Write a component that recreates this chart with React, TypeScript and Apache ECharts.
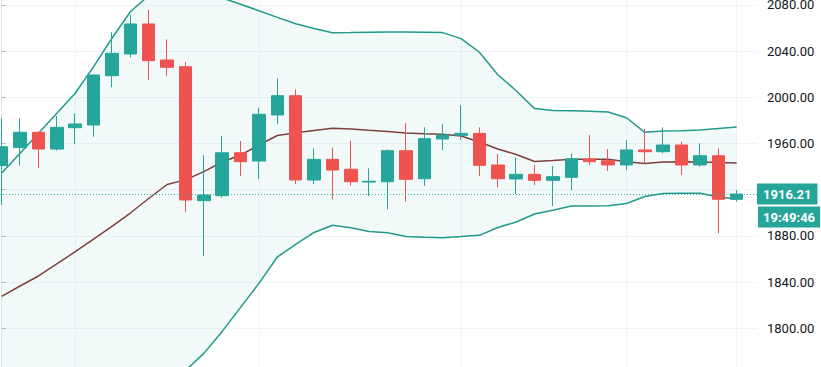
import React, { useEffect, useRef } from 'react';
import * as echarts from 'echarts';

const opens = [1940.8, 1956.4, 1969.7, 1955.2, 1973.7, 1976.0, 2018.7, 2037.5, 2063.5, 2032.3, 2026.5, 1910.5, 1914.8, 1952.0, 1944.8, 1984.7, 2001.4, 1928.4, 1946.3, 1937.7, 1926.6, 1926.9, 1953.8, 1929.5, 1963.9, 1967.1, 1968.8, 1941.4, 1929.3, 1933.3, 1928.1, 1930.7, 1946.6, 1945.1, 1941.4, 1954.4, 1952.9, 1958.7, 1941.4, 1949.4, 1911.7];
const closes = [1957.2, 1969.7, 1955.2, 1974.0, 1976.9, 2019.3, 2038.1, 2063.5, 2031.7, 2026.0, 1911.1, 1915.4, 1952.0, 1944.2, 1985.3, 2001.4, 1928.4, 1946.3, 1937.0, 1926.9, 1927.3, 1953.8, 1929.0, 1964.2, 1967.4, 1968.8, 1941.1, 1929.5, 1933.3, 1928.1, 1931.3, 1946.8, 1944.2, 1941.4, 1954.4, 1952.9, 1958.7, 1941.4, 1949.4, 1911.7, 1916.21];
const lows = [1906.8, 1940.8, 1939.0, 1953.8, 1959.6, 1965.9, 2008.7, 2034.6, 2015.0, 2018.4, 1900.7, 1862.6, 1913.0, 1931.9, 1929.3, 1976.6, 1924.9, 1924.9, 1911.7, 1923.5, 1914.5, 1903.0, 1909.6, 1923.2, 1954.4, 1963.0, 1931.9, 1922.1, 1916.3, 1924.1, 1905.9, 1919.7, 1941.4, 1936.2, 1937.0, 1942.9, 1951.5, 1932.7, 1939.9, 1882.3, 1909.6];
const highs = [1981.8, 1981.8, 1970.0, 1983.8, 1986.1, 2019.8, 2056.3, 2071.3, 2075.6, 2050.2, 2030.6, 1950.0, 1966.5, 1962.2, 1991.0, 2016.4, 2006.9, 1955.8, 1956.4, 1962.4, 1938.5, 1955.0, 1977.5, 1974.0, 1976.9, 1993.3, 1974.0, 1950.9, 1948.0, 1941.4, 1940.5, 1951.5, 1967.4, 1955.2, 1963.0, 1972.6, 1974.0, 1961.6, 1960.2, 1955.8, 1919.7];

const upperBand = [1934.5, 1951.5, 1968.8, 1986.1, 2003.5, 2026.5, 2051.1, 2074.1, 2088, 2093, 2093, 2090, 2086, 2080.6, 2075, 2069.2, 2063.7, 2059.5, 2055.9, 2056, 2056.3, 2056.5, 2056.5, 2056.3, 2056, 2050.8, 2039, 2019.5, 2005.7, 1990.2, 1988.6, 1988.3, 1987.9, 1987.3, 1982.3, 1969.7, 1970.8, 1971.1, 1971.7, 1973, 1974.3];
const middleBand = [1827.7, 1836.6, 1845.3, 1855.7, 1866.3, 1877.3, 1888.3, 1899.8, 1912.4, 1924.5, 1928.5, 1935.6, 1944, 1950, 1958.7, 1966.9, 1969.3, 1971.3, 1973.2, 1972.6, 1971.4, 1970.4, 1969.1, 1968.4, 1968.1, 1966.5, 1961.3, 1955.2, 1950.5, 1944.4, 1945.3, 1946.3, 1946.3, 1946.3, 1944.2, 1942.7, 1944, 1944.2, 1944, 1943.5, 1943.1];
const lowerBand = [1720.9, 1721.7, 1721.8, 1725.3, 1729.1, 1728.1, 1725.5, 1725.5, 1736.8, 1756, 1763.3, 1778.3, 1797.3, 1818.1, 1838.9, 1861.7, 1872.6, 1883, 1889.2, 1887, 1883.8, 1882.7, 1879.5, 1878.9, 1878.4, 1879.4, 1880.5, 1887.3, 1892, 1899, 1902.3, 1905.9, 1905.9, 1906.1, 1908.1, 1914.1, 1916.7, 1916.9, 1916.9, 1913.7, 1911.9];

const timeGridIndices = [4, 14, 25, 34, 40];
const priceTicks = [1800, 1840, 1880, 1920, 1960, 2000, 2040, 2080];
const lastPrice = 1916.21;
const countdownText = '19:49:46';

const UP = '#26a69a';
const DOWN = '#ef5350';
const BAND = '#22998c';
const BASIS = '#7e3f3c';
const GRID = '#f0f3fa';
const FONT = 'Roboto, "Noto Sans", sans-serif';

export default function App() {
  const ref = useRef<HTMLDivElement>(null);
  useEffect(() => {
    if (!ref.current) return;
    const chart = echarts.init(ref.current, undefined, { renderer: 'svg' });
    const candles = opens.map((o, i) => [i, o, closes[i], lows[i], highs[i]]);
    const toXY = (arr: number[]) => arr.map((v, i) => [i, v]);
    chart.setOption({
      animation: false,
      backgroundColor: '#ffffff',
      grid: {
        left: 0,
        right: 64,
        top: -41.3,
        bottom: -7.5,
        containLabel: false,
        outerBoundsMode: 'none',
      },
      xAxis: {
        type: 'value',
        min: -0.0925,
        max: 41.105,
        show: false,
        splitLine: { show: false },
      },
      yAxis: {
        type: 'value',
        position: 'right',
        min: 1760,
        max: 2120,
        interval: 40,
        axisLine: { show: true, lineStyle: { color: '#e0e3eb', width: 1 } },
        axisTick: { show: true, length: 4, lineStyle: { color: '#b2b5be' } },
        axisLabel: {
          margin: 10,
          color: '#131722',
          fontSize: 13,
          fontFamily: FONT,
          // only the listed price ticks are labelled; the one under the last-price tag is hidden
          formatter: (v: number) =>
            priceTicks.indexOf(v) < 0 || Math.abs(v - lastPrice) < 12 ? '' : v.toFixed(2),
        },
        splitLine: { show: true, lineStyle: { color: GRID, width: 1 } },
      },
      series: [
        {
          type: 'custom',
          silent: true,
          z: 1,
          data: [[0, 1950]],
          encode: { x: 0, y: 1 },
          renderItem: (params: any, api: any) => {
            const pts: number[][] = [];
            for (let i = 0; i < upperBand.length; i++) pts.push(api.coord([i, upperBand[i]]));
            for (let i = lowerBand.length - 1; i >= 0; i--) pts.push(api.coord([i, lowerBand[i]]));
            return {
              type: 'polygon',
              shape: { points: pts },
              style: { fill: 'rgba(38,166,154,0.06)' },
            };
          },
        },
        {
          type: 'line',
          name: 'Upper',
          data: toXY(upperBand),
          symbol: 'none',
          silent: true,
          z: 3,
          lineStyle: { color: BAND, width: 1.5 },
        },
        {
          type: 'line',
          name: 'Lower',
          data: toXY(lowerBand),
          symbol: 'none',
          silent: true,
          z: 3,
          lineStyle: { color: BAND, width: 1.5 },
        },
        {
          type: 'line',
          name: 'Basis',
          data: toXY(middleBand),
          symbol: 'none',
          silent: true,
          z: 3,
          lineStyle: { color: BASIS, width: 1.5 },
          markLine: {
            silent: true,
            symbol: ['none', 'none'],
            z: 1,
            label: { show: false },
            lineStyle: { color: GRID, width: 1, type: 'solid' },
            data: timeGridIndices.map((x) => ({ xAxis: x })),
          },
        },
        {
          type: 'candlestick',
          data: candles,
          encode: { x: 0, y: [1, 2, 3, 4] },
          barWidth: 13,
          z: 4,
          itemStyle: {
            color: UP,
            color0: DOWN,
            borderColor: UP,
            borderColor0: DOWN,
            borderWidth: 1,
          },
          markLine: {
            silent: true,
            symbol: ['none', 'none'],
            z: 6,
            lineStyle: { color: 'rgba(38,166,154,0.85)', width: 1, type: [1, 2] },
            label: {
              show: true,
              position: 'end',
              distance: 0,
              formatter: () => lastPrice.toFixed(2),
              color: '#ffffff',
              backgroundColor: UP,
              fontFamily: FONT,
              fontSize: 13,
              fontWeight: 'bold',
              lineHeight: 15,
              padding: [3, 6, 3, 6],
            },
            data: [{ yAxis: lastPrice }],
          },
        },
      ],
      graphic: [
        {
          type: 'text',
          x: 758,
          y: 206.5,
          z: 10,
          style: {
            text: countdownText,
            fill: '#ffffff',
            backgroundColor: UP,
            padding: [3, 5, 3, 5],
            font: 'bold 13px Roboto, "Noto Sans", sans-serif',
            lineHeight: 15,
          },
        },
      ],
    });
    return () => chart.dispose();
  }, []);
  return (
    <div
      ref={ref}
      style={{ position: 'fixed', left: 0, top: 0, width: 821, height: 367 }}
    />
  );
}
